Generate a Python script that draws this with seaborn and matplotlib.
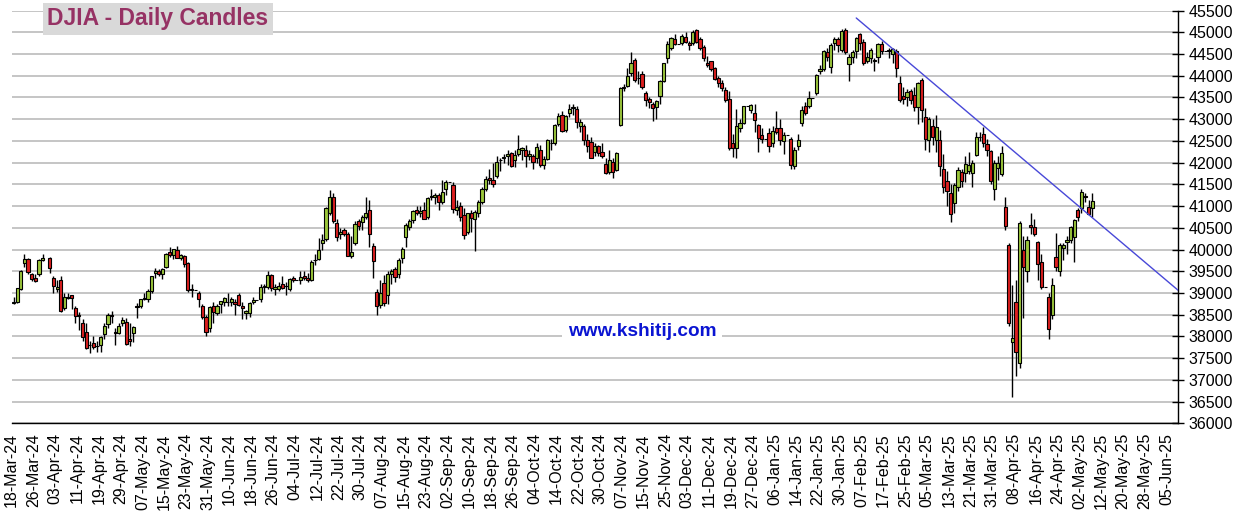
import pandas as pd
import matplotlib
matplotlib.use("Agg")
import matplotlib.pyplot as plt
import seaborn as sns
import numpy as np

# ---- data -------------------------------------------------------------
# weekday bars from 18-Mar-24 to 07-May-25 (exchange holidays shown as flat bars),
# only 29-Mar-24 is missing on the chart
first_day = "2024-03-18"
last_day = "2025-05-07"
missing_days = ["2024-03-29"]
axis_end = "2025-06-10"

opens = [
    # Mar-24
    38780, 38790, 39100, 39700, 39780, 39440, 39350, 39430, 39770,
    # Apr-24
    39800, 39350, 39080, 39300, 38650, 38900, 38950, 38660, 38500, 38310, 38100,
    37800, 37850, 37790, 37800, 38050, 38280, 38500, 38100, 38080, 38300, 38340,
    # May-24
    37950, 38080, 38700, 38700, 38850, 38850, 39050, 39450, 39500, 39440, 39600,
    39940, 39880, 40000, 39800, 39850, 39700, 39100, 39070, 39010, 38700, 38450, 38200,
    # Jun-24
    38700, 38550, 38750, 38800, 38800, 38800, 38800, 38950, 38700, 38550,
    38550, 38800, 38834, 38850, 39140, 39140, 39420, 39100, 39100, 39200,
    # Jul-24
    39150, 39100, 39350, 39308, 39300, 39380, 39350, 39300, 39750, 39790, 40150, 40250,
    40850, 41200, 40600, 40350, 40450, 40350, 39860, 40150, 40660, 40640, 40760,
    # Aug-24
    40920, 40090, 39030, 38730, 39230, 38950, 39440, 39560, 39440, 39800, 40290,
    40520, 40690, 40900, 40850, 40900, 40750, 41200, 41200, 41250, 41100, 41400,
    # Sep-24
    41563, 41490, 40900, 41000, 40800, 40400, 40850, 40700, 40850, 41100, 41400,
    41650, 41600, 41700, 42050, 42100, 42150, 42220, 42050, 42200, 42300,
    # Oct-24
    42300, 42150, 42150, 42100, 42300, 41950, 42080, 42450, 42450, 42900, 43100, 42750,
    43150, 43250, 43240, 42850, 42850, 42530, 42480, 42250, 42387, 42250, 41970,
    # Nov-24
    41790, 42020, 41840, 42870, 43750, 43770, 44070, 44370, 43950, 44050, 43610,
    43470, 43350, 43290, 43540, 43870, 44420, 44650, 44850, 44722, 44750,
    # Dec-24
    44900, 44750, 44750, 45060, 44850, 44670, 44300, 44330, 44190, 43960, 43840,
    43680, 43470, 42460, 42340, 42800, 42920, 43297, 43220, 43150, 42870, 42640,
    # Jan-25
    42544, 42690, 42450, 42800, 42800, 42500, 42636, 42550, 41930, 42390, 42920, 43310,
    43300, 43488, 43600, 44100, 44150, 44550, 44200, 44760, 44850, 44600, 45050,
    # Feb-25
    44260, 44440, 44580, 44950, 44770, 44350, 44420, 44350, 44440, 44740,
    44560, 44560, 44500, 44560, 43840, 43530, 43520, 43650, 43560, 43290,
    # Mar-25
    43910, 43060, 42530, 42850, 42530, 42530, 41860, 41580, 41300, 41080, 41450,
    41790, 41770, 41800, 41770, 42180, 42590, 42670, 42440, 42260, 41400,
    # Apr-25
    41880, 41750, 40990, 40100, 37880, 38790, 37390, 40000, 39500, 40560, 40525,
    40180, 39720, 39142, 38910, 38500, 39820, 39510, 40040, 40180, 40230, 40290,
    # May-25
    40910, 40950, 41240, 40985, 40960,
]

highs = [
    # Mar-24
    38900, 39120, 39530, 39889, 39800, 39460, 39430, 39780, 39890,
    # Apr-24
    39830, 39390, 39300, 39400, 39000, 39000, 38960, 38700, 38560, 38400, 38300,
    37900, 38000, 37900, 38020, 38300, 38550, 38580, 38200, 38300, 38440, 38420,
    # May-24
    38300, 38250, 38760, 38870, 39000, 39080, 39400, 39580, 39560, 39580, 39930,
    40050, 40010, 40080, 39900, 39880, 39720, 39200, 39070, 39050, 38750, 38500, 38700,
    # Jun-24
    38800, 38750, 38820, 38900, 39000, 38900, 38850, 39000, 38800, 38600,
    38800, 38900, 38834, 39200, 39200, 39500, 39440, 39200, 39250, 39400,
    # Jul-24
    39250, 39350, 39400, 39308, 39500, 39500, 39450, 39750, 39900, 40270, 40350, 40970,
    41376, 41300, 40700, 40500, 40500, 40400, 40300, 40650, 40700, 40800, 41220,
    # Aug-24
    41150, 40150, 39100, 39300, 39420, 39500, 39550, 39600, 39800, 40050, 40600,
    40700, 40900, 41000, 41000, 41100, 41200, 41400, 41300, 41300, 41600, 41600,
    # Sep-24
    41563, 41550, 41150, 41100, 40950, 40850, 40900, 40900, 41150, 41450, 41700,
    41850, 42000, 42150, 42100, 42200, 42300, 42250, 42300, 42640, 42350,
    # Oct-24
    42400, 42300, 42200, 42450, 42400, 42150, 42550, 42550, 42900, 43150, 43200, 43100,
    43350, 43350, 43300, 43000, 42900, 42650, 42600, 42450, 42400, 42450, 42100,
    # Nov-24
    42300, 42100, 42250, 43750, 43800, 44190, 44550, 44400, 44100, 44100, 43650,
    43500, 43400, 43450, 43900, 44300, 44800, 44900, 44950, 44722, 44950,
    # Dec-24
    45000, 44800, 45050, 45075, 44900, 44700, 44450, 44350, 44200, 44000, 43900,
    43750, 43650, 42650, 43240, 43000, 43310, 43297, 43350, 43350, 42900, 42800,
    # Jan-25
    42544, 42800, 42850, 43200, 43000, 42700, 42636, 42600, 42350, 42650, 43300, 43400,
    43650, 43488, 44050, 44250, 44600, 44650, 44750, 44900, 44900, 45080, 45100,
    # Feb-25
    44500, 44600, 44900, 44980, 44850, 44550, 44650, 44400, 44750, 44800,
    44560, 44650, 44650, 44620, 44000, 43750, 43700, 43700, 43750, 43860,
    # Mar-25
    43950, 43250, 43050, 43000, 43100, 42750, 42200, 41800, 41500, 41540, 41900,
    41850, 42150, 42250, 42050, 42700, 42700, 42830, 42550, 42300, 42050,
    # Apr-25
    42150, 42390, 41200, 40150, 39190, 39300, 40650, 40300, 40300, 40850, 40700,
    40200, 39900, 39142, 39000, 39350, 40390, 40150, 40150, 40300, 40550, 40700,
    # May-25
    40950, 41400, 41300, 41150, 41300,
]

lows = [
    # Mar-24
    38740, 38760, 39060, 39600, 39440, 39280, 39260, 39380, 39740,
    # Apr-24
    39450, 39000, 39020, 38570, 38600, 38850, 38630, 38300, 38150, 37900, 37700,
    37610, 37700, 37650, 37630, 37950, 38200, 38320, 37800, 38050, 38250, 37810,
    # May-24
    37780, 37870, 38430, 38650, 38830, 38800, 39000, 39350, 39380, 39330, 39580,
    39830, 39790, 39800, 39750, 39600, 39030, 38900, 39070, 38680, 38400, 38000, 38100,
    # Jun-24
    38300, 38500, 38550, 38700, 38700, 38700, 38500, 38700, 38400, 38400,
    38450, 38750, 38834, 38800, 39000, 39100, 39050, 38950, 39050, 39100,
    # Jul-24
    38950, 39050, 39250, 39308, 39200, 39300, 39250, 39280, 39650, 39750, 40000, 40200,
    40800, 40600, 40200, 40250, 40300, 39850, 39800, 40100, 40450, 40450, 40700,
    # Aug-24
    40050, 39350, 38500, 38650, 38700, 38750, 39200, 39250, 39350, 39700, 40050,
    40450, 40600, 40800, 40750, 40700, 40700, 41150, 41050, 40900, 41050, 41250,
    # Sep-24
    41563, 40850, 40800, 40650, 40250, 40350, 40400, 39960, 40750, 41050, 41350,
    41500, 41450, 41650, 41800, 42000, 41950, 41900, 41900, 42150, 42050,
    # Oct-24
    41900, 42050, 41850, 42000, 41900, 41850, 42050, 42300, 42400, 42850, 42700, 42700,
    43050, 43100, 42800, 42700, 42400, 42250, 42100, 42150, 42150, 42100, 41750,
    # Nov-24
    41750, 41650, 41800, 42850, 43650, 43750, 44000, 43850, 43800, 43700, 43300,
    43250, 42950, 43000, 43350, 43850, 44300, 44600, 44700, 44722, 44700,
    # Dec-24
    44750, 44600, 44700, 44750, 44600, 44350, 44200, 44100, 43900, 43750, 43650,
    43400, 42300, 42140, 42100, 42700, 42900, 43297, 43150, 42700, 42250, 42450,
    # Jan-25
    42544, 42250, 42350, 42650, 42400, 42200, 42636, 41850, 41850, 42300, 42850, 43100,
    43250, 43488, 43550, 44050, 44100, 44350, 44070, 44600, 44550, 44550, 44500,
    # Feb-25
    43870, 44300, 44400, 44600, 44250, 44300, 44300, 44100, 44300, 44500,
    44560, 44400, 44300, 43970, 43400, 43350, 43300, 43350, 43200, 42900,
    # Mar-25
    42940, 42300, 42250, 42400, 42250, 41700, 41300, 41000, 40640, 40850, 41350,
    41450, 41550, 41750, 41450, 42150, 42500, 42350, 42150, 41500, 41150,
    # Apr-25
    41600, 41700, 40450, 38250, 36612, 37100, 37270, 38430, 39260, 40350, 40300,
    39300, 39100, 39142, 37950, 38400, 39500, 39400, 39750, 39900, 40150, 39720,
    # May-25
    40650, 40850, 41100, 40800, 40750,
]

closes = [
    # Mar-24
    38790, 39110, 39512, 39781, 39475, 39313, 39282, 39760, 39807,
    # Apr-24
    39567, 39170, 39127, 38596, 38904, 38892, 38883, 38462, 38459, 37983, 37735,
    37799, 37753, 37775, 37986, 38240, 38504, 38461, 38086, 38240, 38386, 37816,
    # May-24
    37903, 38226, 38676, 38852, 38884, 39056, 39388, 39513, 39432, 39558, 39908,
    39869, 40004, 39807, 39873, 39671, 39065, 39070, 39070, 38852, 38441, 38112, 38686,
    # Jun-24
    38571, 38711, 38807, 38886, 38799, 38868, 38747, 38712, 38647, 38589,
    38778, 38834, 38834, 39134, 39150, 39411, 39112, 39127, 39164, 39118,
    # Jul-24
    39169, 39331, 39308, 39308, 39375, 39344, 39291, 39721, 39753, 40000, 40211, 40954,
    41198, 40665, 40288, 40415, 40358, 39854, 39935, 40589, 40539, 40743, 40842,
    # Aug-24
    40347, 39737, 38703, 38997, 38763, 39446, 39498, 39357, 39765, 40008, 40563,
    40659, 40896, 40834, 40890, 40712, 41175, 41240, 41250, 41091, 41335, 41563,
    # Sep-24
    41563, 40937, 40975, 40756, 40345, 40830, 40737, 40861, 41097, 41394, 41622,
    41606, 41504, 42025, 42063, 42124, 42208, 41915, 42175, 42313, 42330,
    # Oct-24
    42156, 42196, 42011, 42353, 41954, 42080, 42512, 42454, 42864, 43065, 42740, 43077,
    43239, 43276, 42931, 42925, 42514, 42374, 42114, 42387, 42233, 42142, 41763,
    # Nov-24
    42052, 41795, 42222, 43729, 43729, 43989, 44293, 43911, 43958, 43751, 43445,
    43390, 43269, 43408, 43870, 44297, 44736, 44860, 44722, 44722, 44911,
    # Dec-24
    44782, 44705, 45014, 44766, 44643, 44402, 44248, 44149, 43915, 43828, 43717,
    43450, 42327, 42342, 42840, 42906, 43297, 43297, 43326, 42992, 42574, 42544,
    # Jan-25
    42544, 42392, 42732, 42707, 42528, 42636, 42636, 41938, 42297, 42518, 43221, 43153,
    43488, 43488, 44025, 44157, 44565, 44424, 44714, 44850, 44714, 45020, 44545,
    # Feb-25
    44440, 44556, 44873, 44747, 44303, 44440, 44593, 44368, 44740, 44560,
    44560, 44600, 44620, 44190, 43450, 43470, 43630, 43450, 43290, 43841,
    # Mar-25
    43220, 42550, 43010, 42600, 42830, 41930, 41434, 41350, 40820, 41489, 41842,
    41582, 41965, 41953, 41985, 42583, 42587, 42455, 42300, 41584, 42002,
    # Apr-25
    42000, 42226, 40545, 38315, 37966, 37646, 40608, 39594, 40213, 40525, 40369,
    39669, 39142, 39142, 38170, 39187, 39607, 40093, 40114, 40228, 40527, 40669,
    # May-25
    40753, 41317, 41219, 40829, 41114,
]

tick_labels = [
    "18-Mar-24", "26-Mar-24", "03-Apr-24", "11-Apr-24", "19-Apr-24", "29-Apr-24",
    "07-May-24", "15-May-24", "23-May-24", "31-May-24", "10-Jun-24", "18-Jun-24",
    "26-Jun-24", "04-Jul-24", "12-Jul-24", "22-Jul-24", "30-Jul-24", "07-Aug-24",
    "15-Aug-24", "23-Aug-24", "02-Sep-24", "10-Sep-24", "18-Sep-24", "26-Sep-24",
    "04-Oct-24", "14-Oct-24", "22-Oct-24", "30-Oct-24", "07-Nov-24", "15-Nov-24",
    "25-Nov-24", "03-Dec-24", "11-Dec-24", "19-Dec-24", "27-Dec-24", "06-Jan-25",
    "14-Jan-25", "22-Jan-25", "30-Jan-25", "07-Feb-25", "17-Feb-25", "25-Feb-25",
    "05-Mar-25", "13-Mar-25", "21-Mar-25", "31-Mar-25", "08-Apr-25", "16-Apr-25",
    "24-Apr-25", "02-May-25", "12-May-25", "20-May-25", "28-May-25", "05-Jun-25",
]
y_ticks = list(range(36000, 45501, 500))

# resistance line
trend_dates = ["2025-02-05", "2025-06-10"]
trend_values = [45330, 39035]

# ---- build ------------------------------------------------------------
days = pd.bdate_range(first_day, last_day).drop(pd.to_datetime(missing_days))
for name, arr in [("opens", opens), ("highs", highs), ("lows", lows), ("closes", closes)]:
    if len(arr) != len(days):
        raise ValueError(f"{name}: {len(arr)} values for {len(days)} days")

axis_days = pd.bdate_range(first_day, axis_end)
df = pd.DataFrame({"date": days, "open": opens, "high": highs, "low": lows, "close": closes})
df["x"] = axis_days.get_indexer(df["date"]) + 0.5
df["up"] = df["close"] >= df["open"]

tick_pos = axis_days.get_indexer(pd.to_datetime(tick_labels, format="%d-%b-%y"))
trend = pd.DataFrame({"x": axis_days.get_indexer(pd.to_datetime(trend_dates)) + 0.5,
                      "y": trend_values})

sns.set_style("white")
plt.rcParams["font.family"] = ["Liberation Sans", "DejaVu Sans"]

W, H = 1242, 521
fig = plt.figure(figsize=(W / 100, H / 100), dpi=100)
left, right, bottom, top = 11.7, 1177.7, 423.3, 10.6
ax = fig.add_axes([left / W, 1 - bottom / H, (right - left) / W, (bottom - top) / H])

ax.vlines(df["x"], df["low"], df["high"], color="black", lw=1.0, zorder=2)
colors = np.where(df["up"], "#9cc73c", "#dd1f1f")
ax.bar(df["x"], (df["close"] - df["open"]).abs(), bottom=df[["open", "close"]].min(axis=1),
       width=0.88, color=colors, edgecolor="black", linewidth=0.8, zorder=3)

sns.lineplot(data=trend, x="x", y="y", ax=ax, color="#4848d8", lw=1.0, zorder=4)

ax.set_xlim(0, len(axis_days) - 1)
ax.set_ylim(36000, 45500)
ax.set_yticks(y_ticks)
ax.set_yticklabels([str(v) for v in y_ticks])
ax.yaxis.tick_right()
ax.set_xticks(tick_pos)
ax.set_xticklabels(tick_labels, rotation=90)
ax.set_xlabel("")
ax.set_ylabel("")

ax.yaxis.grid(True, color="#c0c0c0", lw=1.3, zorder=0)
ax.xaxis.grid(False)
ax.set_axisbelow(True)
for side in ["left", "top"]:
    ax.spines[side].set_visible(False)
for side in ["bottom", "right"]:
    ax.spines[side].set_visible(True)
    ax.spines[side].set_color("black")
    ax.spines[side].set_linewidth(1.0)
ax.tick_params(axis="x", direction="inout", length=8, width=1, pad=3, labelsize=11.5,
               colors="black")
ax.tick_params(axis="y", direction="inout", length=8, width=1, pad=4, labelsize=11.5,
               left=False, right=True, colors="black")

fig.text(158 / W, 1 - 19 / H, "DJIA - Daily Candles", ha="center", va="center",
         fontsize=16.5, fontweight="bold", color="#963264",
         bbox=dict(facecolor="#d9d9d9", edgecolor="none", boxstyle="square,pad=0.2"))
fig.text(642 / W, 1 - 331 / H, "www.kshitij.com", ha="center", va="center",
         fontsize=13.7, fontweight="bold", color="#0a14d2", zorder=10,
         bbox=dict(facecolor="white", edgecolor="none", boxstyle="square,pad=0.3"))

fig.savefig("out.png", dpi=100)
